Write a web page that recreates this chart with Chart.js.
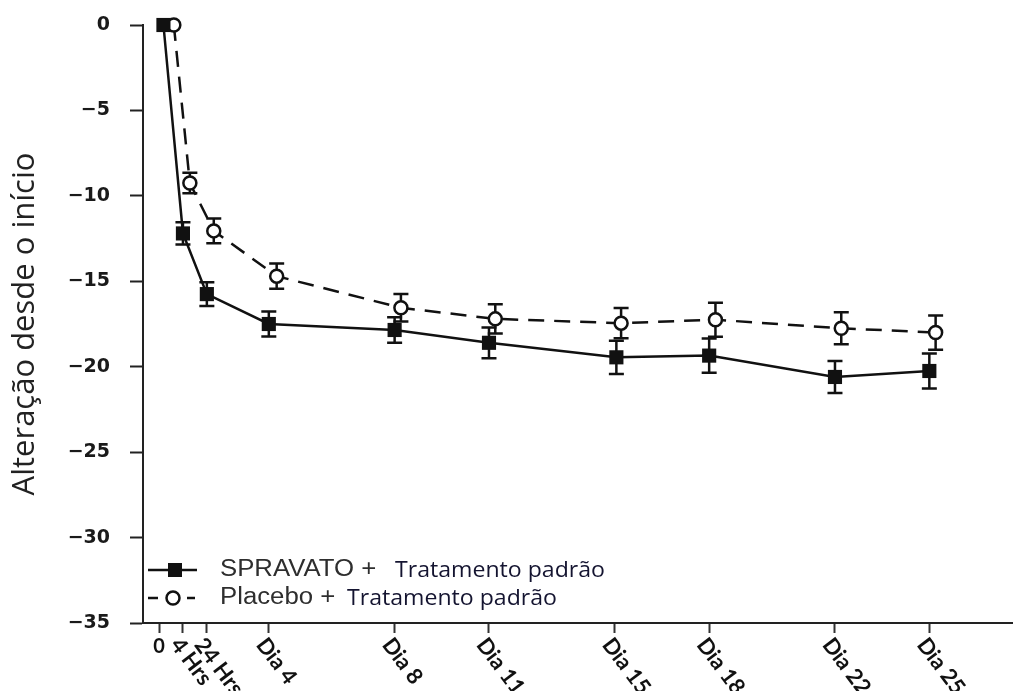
<!DOCTYPE html>
<html lang="pt">

<head>
    <meta charset="utf8" />
    <script src="https://cdnjs.cloudflare.com/ajax/libs/Chart.js/4.4.1/chart.umd.min.js"></script>
    <title>Alteração desde o início</title>
    <style>
        html,
        body {
            margin: 0;
            padding: 0;
            background: #fff;
        }

        #wrap {
            width: 1013px;
            height: 691px;
            position: relative;
        }
    </style>
</head>

<body>
    <div id="wrap"><canvas id="chart"></canvas></div>

    <script>
        // x axis: visit positions (axis units, early visits spread out) and their labels
        const tickPos = [0.51, 1.27, 2.03, 4, 8, 11, 15, 18, 22, 25];
        const tickLabels = ['0', '4 Hrs', '24 Hrs', 'Dia 4', 'Dia 8', 'Dia 11', 'Dia 15', 'Dia 18', 'Dia 22', 'Dia 25'];

        // SPRAVATO + Tratamento padrão
        const spravatoX = [0.65, 1.27, 2.03, 4, 8, 11, 15.05, 18, 22, 25];
        const spravatoY = [0, -12.2, -15.75, -17.5, -17.85, -18.6, -19.45, -19.35, -20.6, -20.25];
        const spravatoErr = [0, 0.65, 0.7, 0.73, 0.75, 0.9, 0.97, 1.0, 0.94, 1.02];

        // Placebo + Tratamento padrão
        const placeboX = [0.98, 1.49, 2.25, 4.25, 8.2, 11.2, 15.2, 18.2, 22.2, 25.2];
        const placeboY = [0, -9.25, -12.05, -14.7, -16.55, -17.2, -17.45, -17.25, -17.75, -18.0];
        const placeboErr = [0, 0.6, 0.73, 0.74, 0.8, 0.85, 0.88, 1.0, 0.94, 1.0];

        const toPoints = (xs, ys, errs) => xs.map((x, i) => ({ x: x, y: ys[i], err: errs[i] }));

        // vertical error bars with caps, drawn under the markers
        const errorBars = {
            id: 'errorBars',
            beforeDatasetsDraw(chart) {
                const { ctx, scales: { x, y } } = chart;
                ctx.save();
                ctx.strokeStyle = '#111';
                ctx.lineWidth = 2.5;
                chart.data.datasets.forEach(ds => {
                    ds.data.forEach(p => {
                        if (!p.err) return;
                        const px = x.getPixelForValue(p.x);
                        const top = y.getPixelForValue(p.y + p.err);
                        const bot = y.getPixelForValue(p.y - p.err);
                        ctx.beginPath();
                        ctx.moveTo(px, top); ctx.lineTo(px, bot);
                        ctx.moveTo(px - 7.5, top); ctx.lineTo(px + 7.5, top);
                        ctx.moveTo(px - 7.5, bot); ctx.lineTo(px + 7.5, bot);
                        ctx.stroke();
                    });
                });
                ctx.restore();
            }
        };

        // slanted x labels + legend box
        const extras = {
            id: 'extras',
            afterDraw(chart) {
                const { ctx, scales: { x } } = chart;
                ctx.save();
                ctx.fillStyle = '#111';
                tickPos.forEach((v, i) => {
                    const px = x.getPixelForValue(v);
                    if (i === 0) {
                        ctx.font = 'bold 20px Lato';
                        ctx.textAlign = 'center';
                        ctx.textBaseline = 'top';
                        ctx.fillText(tickLabels[i], px, 637);
                        return;
                    }
                    ctx.save();
                    ctx.translate(px + 1, 634);
                    ctx.rotate(53 * Math.PI / 180);
                    ctx.font = 'bold 22px Lato';
                    ctx.textAlign = 'left';
                    ctx.textBaseline = 'top';
                    ctx.fillText(tickLabels[i], 0, 0);
                    ctx.restore();
                });

                // legend
                const rows = [
                    { y: 570, name: 'SPRAVATO +', tx: 395, dashed: false },
                    { y: 598, name: 'Placebo +', tx: 347, dashed: true }
                ];
                rows.forEach(r => {
                    ctx.strokeStyle = '#111';
                    ctx.lineWidth = 2.5;
                    ctx.beginPath();
                    if (r.dashed) {
                        ctx.moveTo(148, r.y); ctx.lineTo(158, r.y);
                        ctx.moveTo(187, r.y); ctx.lineTo(195, r.y);
                    } else {
                        ctx.moveTo(148, r.y); ctx.lineTo(197, r.y);
                    }
                    ctx.stroke();
                    if (r.dashed) {
                        ctx.beginPath();
                        ctx.arc(173, r.y, 6.5, 0, Math.PI * 2);
                        ctx.fillStyle = '#fff';
                        ctx.fill();
                        ctx.lineWidth = 2.5;
                        ctx.stroke();
                    } else {
                        ctx.fillStyle = '#111';
                        ctx.fillRect(168, r.y - 7, 14, 14);
                    }

                    ctx.save();
                    ctx.textBaseline = 'middle';
                    ctx.textAlign = 'left';
                    ctx.scale(1.12, 1);
                    ctx.font = '23px "Liberation Sans"';
                    ctx.fillStyle = '#2e2e2e';
                    ctx.fillText(r.name, 220 / 1.12, r.y);
                    ctx.restore();

                    ctx.save();
                    ctx.textBaseline = 'middle';
                    ctx.textAlign = 'left';
                    ctx.scale(1.1, 1);
                    ctx.font = '21px "Open Sans"';
                    ctx.fillStyle = '#141430';
                    ctx.fillText('Tratamento padrão', r.tx / 1.1, r.y + 1);
                    ctx.restore();
                });
                ctx.restore();
            }
        };

        const ctx = document.getElementById('chart').getContext('2d');

        new Chart(ctx, {
            type: 'scatter',
            data: {
                datasets: [
                    {
                        label: 'SPRAVATO + Tratamento padrão',
                        data: toPoints(spravatoX, spravatoY, spravatoErr),
                        showLine: true,
                        borderColor: '#111',
                        borderWidth: 2.5,
                        pointStyle: 'rect',
                        pointRadius: 10,
                        pointBackgroundColor: '#111',
                        pointBorderWidth: 0,
                        clip: false
                    },
                    {
                        label: 'Placebo + Tratamento padrão',
                        data: toPoints(placeboX, placeboY, placeboErr),
                        showLine: true,
                        borderColor: '#111',
                        borderWidth: 2.5,
                        borderDash: [16, 10],
                        pointStyle: 'circle',
                        pointRadius: 6.5,
                        pointBackgroundColor: '#fff',
                        pointBorderColor: '#111',
                        pointBorderWidth: 2.5,
                        clip: false
                    }
                ]
            },
            options: {
                responsive: true,
                maintainAspectRatio: false,
                animation: false,
                layout: {
                    autoPadding: false,
                    padding: { top: 25, right: 0, left: 0, bottom: 0 }
                },
                scales: {
                    x: {
                        type: 'linear',
                        min: 0,
                        max: 27.66,
                        afterBuildTicks: scale => {
                            scale.ticks = tickPos.map(v => ({ value: v }));
                        },
                        afterFit: scale => { scale.height = 68; },
                        border: { color: '#222', width: 2 },
                        grid: {
                            drawOnChartArea: false,
                            tickLength: 10,
                            tickWidth: 2,
                            tickColor: '#333'
                        },
                        ticks: { display: false }
                    },
                    y: {
                        min: -35,
                        max: 0,
                        afterFit: scale => {
                            scale.width = 143;
                            scale.paddingTop = 0;
                            scale.paddingBottom = 0;
                        },
                        border: { color: '#222', width: 2 },
                        grid: {
                            drawOnChartArea: false,
                            tickLength: 13,
                            tickWidth: 2,
                            tickColor: '#222'
                        },
                        ticks: {
                            stepSize: 5,
                            padding: 20,
                            color: '#1a1a1a',
                            font: { family: 'DejaVu Sans', weight: 'bold', size: 19 },
                            callback: v => (v < 0 ? '\u2212' + Math.abs(v) : String(v))
                        },
                        title: {
                            display: true,
                            text: 'Alteração desde o início',
                            color: '#222',
                            padding: { top: 7, bottom: 0 },
                            font: { family: 'Open Sans', size: 31 }
                        }
                    }
                },
                plugins: {
                    legend: { display: false },
                    tooltip: { enabled: false }
                }
            },
            plugins: [errorBars, extras]
        });
    </script>
</body>

</html>
